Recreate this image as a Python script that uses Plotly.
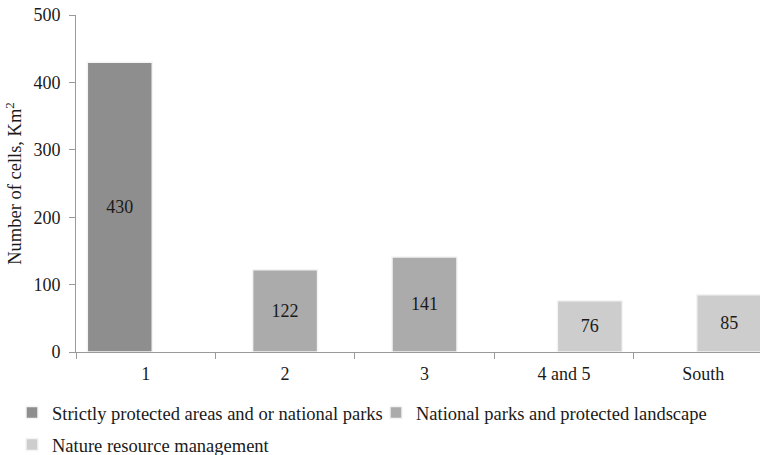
import plotly.graph_objects as go

categories = ["1", "2", "3", "4 and 5", "South"]
series_names = [
    "Strictly protected areas and or national parks",
    "National parks and protected landscape",
    "Nature resource management",
]
strict_vals = [430, None, None, None, None]
parks_vals = [None, 122, 141, None, None]
nature_vals = [None, None, None, 76, 85]
y_ticks = [0, 100, 200, 300, 400, 500]

colors = ["#8E8E8E", "#ABABAB", "#CDCDCD"]
FONT = "Liberation Serif, Times New Roman, serif"
TXT = "#1A1A1A"
bar_w = 0.466
step = 0.186
offsets = [-step - bar_w / 2, -bar_w / 2, step - bar_w / 2]
legend_ids = ["legend", "legend3", "legend2"]

fig = go.Figure()
for i, (name, vals) in enumerate(zip(series_names, [strict_vals, parks_vals, nature_vals])):
    fig.add_trace(go.Bar(
        x=categories, y=vals, name=name,
        width=bar_w, offset=offsets[i],
        marker=dict(color=colors[i], line=dict(color="#F4F4F4", width=1.5)),
        text=["" if v is None else str(v) for v in vals],
        textposition="inside", insidetextanchor="middle", textangle=0,
        textfont=dict(family=FONT, size=18, color=TXT),
        legend=legend_ids[i],
    ))

def leg(xpx, ypx):
    return dict(orientation="h", xref="container", yref="container",
                x=xpx / 760, y=1 - ypx / 455, xanchor="left", yanchor="middle",
                font=dict(family=FONT, size=18.5, color=TXT),
                itemwidth=30, bgcolor="rgba(0,0,0,0)")

fig.update_layout(
    width=760, height=455,
    margin=dict(l=76, r=0, t=15, b=103),
    plot_bgcolor="white", paper_bgcolor="white",
    barmode="overlay",
    font=dict(family=FONT, size=18, color=TXT),
    showlegend=True,
    legend=leg(12, 413),
    legend3=leg(376, 413),
    legend2=leg(12, 445),
)
fig.update_xaxes(
    type="category", range=[-0.5, 4.5 - 13 / 139.5], automargin=False,
    showline=True, linecolor="#9A9A9A", linewidth=1,
    ticks="outside", tickson="boundaries", ticklen=6, tickcolor="#9A9A9A",
    showgrid=False, ticklabelstandoff=5,
    tickfont=dict(family=FONT, size=18, color=TXT),
)
fig.update_yaxes(
    range=[0, 500], tickvals=y_ticks, automargin=False,
    showline=True, linecolor="#9A9A9A", linewidth=1,
    ticks="outside", ticklen=6, tickcolor="#9A9A9A",
    showgrid=False, zeroline=False, ticklabelstandoff=5,
    tickfont=dict(family=FONT, size=18, color=TXT),
    title=dict(text="Number of cells, Km<sup>2</sup>", standoff=6,
               font=dict(family=FONT, size=18.5, color=TXT)),
)

fig.write_html("out.html", config={"displayModeBar": False},
               post_script="document.body.style.margin='0';")
